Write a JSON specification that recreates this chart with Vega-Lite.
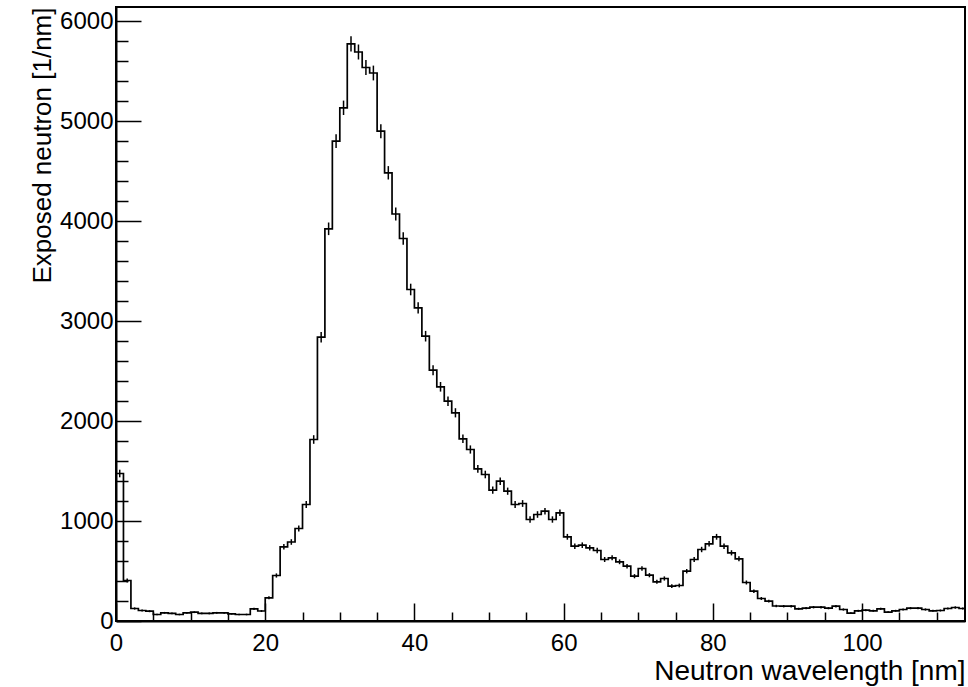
{
  "$schema": "https://vega.github.io/schema/vega-lite/v6.json",
  "width": 849,
  "height": 614,
  "autosize": {"type": "none"},
  "padding": {"left": 116, "top": 7, "right": 3, "bottom": 66},
  "background": "white",
  "config": {
    "view": {"stroke": "black", "strokeWidth": 2},
    "axis": {
      "labelFont": "Liberation Sans",
      "titleFont": "Liberation Sans",
      "labelColor": "black",
      "titleColor": "black",
      "labelFontSize": 24,
      "titleFontSize": 26,
      "titleFontWeight": "normal",
      "domainColor": "black",
      "domainWidth": 2,
      "tickColor": "black",
      "tickWidth": 1.5,
      "grid": false,
      "labelFlush": false,
      "labelOverlap": false
    }
  },
  "datasets": {
    "h": [
      {"x":0,"c":0.5,"v":1475,"e":38},{"x":1,"c":1.5,"v":405,"e":20},{"x":2,"c":2.5,"v":125,"e":11},{"x":3,"c":3.5,"v":105,"e":10},
      {"x":4,"c":4.5,"v":98,"e":10},{"x":5,"c":5.5,"v":65,"e":8},{"x":6,"c":6.5,"v":82,"e":9},{"x":7,"c":7.5,"v":76,"e":9},
      {"x":8,"c":8.5,"v":65,"e":8},{"x":9,"c":9.5,"v":82,"e":9},{"x":10,"c":10.5,"v":88,"e":9},{"x":11,"c":11.5,"v":76,"e":9},
      {"x":12,"c":12.5,"v":76,"e":9},{"x":13,"c":13.5,"v":82,"e":9},{"x":14,"c":14.5,"v":82,"e":9},{"x":15,"c":15.5,"v":72,"e":8},
      {"x":16,"c":16.5,"v":65,"e":8},{"x":17,"c":17.5,"v":65,"e":8},{"x":18,"c":18.5,"v":122,"e":11},{"x":19,"c":19.5,"v":100,"e":10},
      {"x":20,"c":20.5,"v":232,"e":15},{"x":21,"c":21.5,"v":455,"e":21},{"x":22,"c":22.5,"v":742,"e":27},{"x":23,"c":23.5,"v":790,"e":28},
      {"x":24,"c":24.5,"v":925,"e":30},{"x":25,"c":25.5,"v":1165,"e":34},{"x":26,"c":26.5,"v":1815,"e":43},{"x":27,"c":27.5,"v":2838,"e":53},
      {"x":28,"c":28.5,"v":3922,"e":63},{"x":29,"c":29.5,"v":4798,"e":69},{"x":30,"c":30.5,"v":5132,"e":72},{"x":31,"c":31.5,"v":5772,"e":76},
      {"x":32,"c":32.5,"v":5690,"e":75},{"x":33,"c":33.5,"v":5535,"e":74},{"x":34,"c":34.5,"v":5480,"e":74},{"x":35,"c":35.5,"v":4898,"e":70},
      {"x":36,"c":36.5,"v":4482,"e":67},{"x":37,"c":37.5,"v":4070,"e":64},{"x":38,"c":38.5,"v":3825,"e":62},{"x":39,"c":39.5,"v":3315,"e":58},
      {"x":40,"c":40.5,"v":3132,"e":56},{"x":41,"c":41.5,"v":2848,"e":53},{"x":42,"c":42.5,"v":2508,"e":50},{"x":43,"c":43.5,"v":2342,"e":48},
      {"x":44,"c":44.5,"v":2198,"e":47},{"x":45,"c":45.5,"v":2082,"e":46},{"x":46,"c":46.5,"v":1822,"e":43},{"x":47,"c":47.5,"v":1715,"e":41},
      {"x":48,"c":48.5,"v":1522,"e":39},{"x":49,"c":49.5,"v":1465,"e":38},{"x":50,"c":50.5,"v":1308,"e":36},{"x":51,"c":51.5,"v":1398,"e":37},
      {"x":52,"c":52.5,"v":1298,"e":36},{"x":53,"c":53.5,"v":1165,"e":34},{"x":54,"c":54.5,"v":1175,"e":34},{"x":55,"c":55.5,"v":1015,"e":32},
      {"x":56,"c":56.5,"v":1065,"e":33},{"x":57,"c":57.5,"v":1098,"e":33},{"x":58,"c":58.5,"v":1015,"e":32},{"x":59,"c":59.5,"v":1082,"e":33},
      {"x":60,"c":60.5,"v":842,"e":29},{"x":61,"c":61.5,"v":748,"e":27},{"x":62,"c":62.5,"v":758,"e":28},{"x":63,"c":63.5,"v":732,"e":27},
      {"x":64,"c":64.5,"v":705,"e":27},{"x":65,"c":65.5,"v":615,"e":25},{"x":66,"c":66.5,"v":632,"e":25},{"x":67,"c":67.5,"v":592,"e":24},
      {"x":68,"c":68.5,"v":548,"e":23},{"x":69,"c":69.5,"v":448,"e":21},{"x":70,"c":70.5,"v":525,"e":23},{"x":71,"c":71.5,"v":458,"e":21},
      {"x":72,"c":72.5,"v":392,"e":20},{"x":73,"c":73.5,"v":425,"e":21},{"x":74,"c":74.5,"v":348,"e":19},{"x":75,"c":75.5,"v":355,"e":19},
      {"x":76,"c":76.5,"v":498,"e":22},{"x":77,"c":77.5,"v":615,"e":25},{"x":78,"c":78.5,"v":715,"e":27},{"x":79,"c":79.5,"v":772,"e":28},
      {"x":80,"c":80.5,"v":842,"e":29},{"x":81,"c":81.5,"v":748,"e":27},{"x":82,"c":82.5,"v":682,"e":26},{"x":83,"c":83.5,"v":622,"e":25},
      {"x":84,"c":84.5,"v":385,"e":20},{"x":85,"c":85.5,"v":298,"e":17},{"x":86,"c":86.5,"v":225,"e":15},{"x":87,"c":87.5,"v":198,"e":14},
      {"x":88,"c":88.5,"v":150,"e":12},{"x":89,"c":89.5,"v":148,"e":12},{"x":90,"c":90.5,"v":148,"e":12},{"x":91,"c":91.5,"v":122,"e":11},
      {"x":92,"c":92.5,"v":128,"e":11},{"x":93,"c":93.5,"v":138,"e":12},{"x":94,"c":94.5,"v":138,"e":12},{"x":95,"c":95.5,"v":128,"e":11},
      {"x":96,"c":96.5,"v":148,"e":12},{"x":97,"c":97.5,"v":115,"e":11},{"x":98,"c":98.5,"v":78,"e":9},{"x":99,"c":99.5,"v":102,"e":10},
      {"x":100,"c":100.5,"v":108,"e":10},{"x":101,"c":101.5,"v":102,"e":10},{"x":102,"c":102.5,"v":122,"e":11},{"x":103,"c":103.5,"v":88,"e":9},
      {"x":104,"c":104.5,"v":102,"e":10},{"x":105,"c":105.5,"v":115,"e":11},{"x":106,"c":106.5,"v":128,"e":11},{"x":107,"c":107.5,"v":128,"e":11},
      {"x":108,"c":108.5,"v":115,"e":11},{"x":109,"c":109.5,"v":102,"e":10},{"x":110,"c":110.5,"v":105,"e":10},{"x":111,"c":111.5,"v":125,"e":11},
      {"x":112,"c":112.5,"v":135,"e":12},{"x":113,"c":113.5,"v":125,"e":11},{"x":114,"c":114.5,"v":125,"e":0}
    ]
  },
  "layer": [
    {
      "data": {"name": "h"},
      "mark": {"type": "line", "interpolate": "step-after", "color": "black", "strokeWidth": 1.7, "clip": true},
      "encoding": {
        "x": {
          "field": "x", "type": "quantitative",
          "scale": {"domain": [0, 113.8], "nice": false, "zero": false},
          "axis": {
            "orient": "bottom",
            "values": [0, 20, 40, 60, 80, 100],
            "format": "d",
            "tickSize": -18,
            "labelPadding": 28,
            "title": "Neutron wavelength [nm]",
            "titleFontSize": 28,
            "titleAnchor": "end",
            "titleAlign": "right",
            "titlePadding": 2
          }
        },
        "y": {
          "field": "v", "type": "quantitative",
          "scale": {"domain": [0, 6140], "nice": false},
          "axis": {
            "orient": "left",
            "values": [0, 1000, 2000, 3000, 4000, 5000, 6000],
            "format": "d",
            "tickSize": -25,
            "labelPadding": 28,
            "title": "Exposed neutron [1/nm]",
            "titleAnchor": "end",
            "titleAlign": "right",
            "titlePadding": 4
          }
        }
      }
    },
    {
      "data": {"name": "h"},
      "transform": [{"filter": "datum.e > 0"}],
      "mark": {"type": "errorbar", "color": "black", "thickness": 1.5},
      "encoding": {
        "x": {
          "field": "c", "type": "quantitative",
          "scale": {"domain": [0, 113.8], "nice": false, "zero": false},
          "axis": {
            "orient": "bottom",
            "values": [5, 10, 15, 25, 30, 35, 45, 50, 55, 65, 70, 75, 85, 90, 95, 105, 110],
            "tickSize": -9,
            "labels": false,
            "domain": false,
            "title": null
          }
        },
        "y": {
          "field": "v", "type": "quantitative",
          "scale": {"domain": [0, 6140], "nice": false},
          "axis": {
            "orient": "left",
            "values": [200, 400, 600, 800, 1200, 1400, 1600, 1800, 2200, 2400, 2600, 2800, 3200, 3400, 3600, 3800, 4200, 4400, 4600, 4800, 5200, 5400, 5600, 5800],
            "tickSize": -12,
            "labels": false,
            "domain": false,
            "title": null
          }
        },
        "yError": {"field": "e"}
      }
    }
  ],
  "resolve": {"axis": {"x": "independent", "y": "independent"}}
}
